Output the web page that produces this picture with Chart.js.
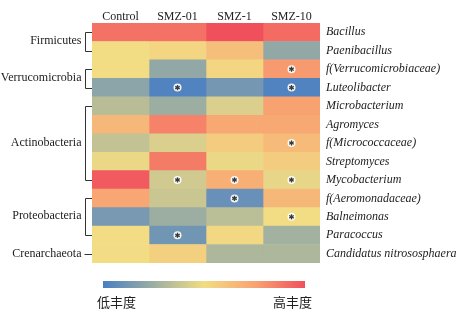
<!DOCTYPE html>
<html>
<head>
<meta charset="utf-8">
<script src="https://cdn.jsdelivr.net/npm/chart.js@4"></script>
<style>
  html, body { margin: 0; padding: 0; background: #fff; }
  #wrap { width: 463px; height: 313px; }
</style>
</head>
<body>
<div id="wrap"><canvas id="chart"></canvas></div>
<script>
// columns (treatments) and rows (genera)
const columns = ['Control', 'SMZ-01', 'SMZ-1', 'SMZ-10'];
const genera = ['Bacillus', 'Paenibacillus', 'f(Verrucomicrobiaceae)', 'Luteolibacter',
                'Microbacterium', 'Agromyces', 'f(Micrococcaceae)', 'Streptomyces',
                'Mycobacterium', 'f(Aeromonadaceae)', 'Balneimonas', 'Paracoccus',
                'Candidatus nitrososphaera'];

// relative abundance, scaled 0 (low) .. 1 (high)
const control = [0.90, 0.50, 0.50, 0.20, 0.33, 0.66, 0.36, 0.48, 0.97, 0.74, 0.14, 0.50, 0.50];
const smz01   = [0.90, 0.53, 0.22, 0.02, 0.25, 0.85, 0.43, 0.87, 0.40, 0.38, 0.25, 0.12, 0.56];
const smz1    = [1.00, 0.63, 0.53, 0.13, 0.43, 0.73, 0.57, 0.48, 0.70, 0.09, 0.34, 0.52, 0.30];
const smz10   = [0.92, 0.22, 0.78, 0.02, 0.76, 0.73, 0.65, 0.57, 0.47, 0.66, 0.50, 0.27, 0.30];

// significant cells [row, column]
const stars = [[2, 3], [3, 1], [3, 3], [6, 3], [8, 1], [8, 2], [8, 3], [9, 2], [10, 3], [11, 1]];

// phylum groups: [name, first row, last row]
const phyla = [['Firmicutes', 0, 1], ['Verrucomicrobia', 2, 3], ['Actinobacteria', 4, 8],
               ['Proteobacteria', 9, 11], ['Crenarchaeota', 12, 12]];

const stops = [[0, [74, 127, 196]], [0.25, [156, 174, 162]], [0.5, [242, 220, 132]],
               [0.75, [248, 164, 114]], [1, [240, 80, 92]]];

function colorFor(v) {
    for (let i = 1; i < stops.length; i++) {
        if (v <= stops[i][0]) {
            const a = stops[i - 1], b = stops[i];
            const t = (v - a[0]) / (b[0] - a[0]);
            const c = a[1].map((x, k) => Math.round(x + (b[1][k] - x) * t));
            return 'rgb(' + c.join(',') + ')';
        }
    }
    return 'rgb(' + stops[stops.length - 1][1].join(',') + ')';
}

const allValues = [control, smz01, smz1, smz10];

const overlay = {
    id: 'overlay',
    afterDatasetsDraw(chart) {
        const ctx = chart.ctx;
        const y = chart.scales.y;
        const area = chart.chartArea;

        ctx.save();
        // phylum brackets and names
        ctx.strokeStyle = '#333';
        ctx.lineWidth = 1;
        ctx.fillStyle = '#222';
        ctx.font = '12px "Liberation Serif", serif';
        ctx.textAlign = 'right';
        ctx.textBaseline = 'middle';
        const bx = area.left - 6.5;
        phyla.forEach(p => {
            const y0 = Math.round(y.getPixelForValue(p[1])) + 0.5;
            const y1 = Math.round(y.getPixelForValue(p[2])) + 0.5;
            ctx.beginPath();
            if (p[1] === p[2]) {
                ctx.moveTo(bx - 1, y0);
                ctx.lineTo(area.left, y0);
            } else {
                ctx.moveTo(area.left, y0);
                ctx.lineTo(bx, y0);
                ctx.lineTo(bx, y1);
                ctx.lineTo(area.left, y1);
            }
            ctx.stroke();
            ctx.fillText(p[0], bx - 4, (y0 + y1) / 2 - 1);
        });

        // asterisks
        stars.forEach(s => {
            const bar = chart.getDatasetMeta(s[1]).data[s[0]];
            const cx = bar.x - (bar.x - bar.base) / 2;
            const cy = bar.y;
            ctx.beginPath();
            ctx.arc(cx, cy, 4, 0, Math.PI * 2);
            ctx.fillStyle = 'rgba(255,255,255,0.9)';
            ctx.fill();
            ctx.strokeStyle = '#3a3a3a';
            ctx.lineWidth = 1.3;
            for (let k = 0; k < 3; k++) {
                const a = Math.PI / 2 + k * Math.PI / 3;
                ctx.beginPath();
                ctx.moveTo(cx - Math.cos(a) * 2.6, cy - Math.sin(a) * 2.6);
                ctx.lineTo(cx + Math.cos(a) * 2.6, cy + Math.sin(a) * 2.6);
                ctx.stroke();
            }
        });

        // colour bar
        const gx0 = 103, gx1 = 305, gy = 281, gh = 7;
        const grad = ctx.createLinearGradient(gx0, 0, gx1, 0);
        stops.forEach(s => grad.addColorStop(s[0], 'rgb(' + s[1].join(',') + ')'));
        ctx.fillStyle = grad;
        ctx.fillRect(gx0, gy, gx1 - gx0, gh);
        ctx.fillStyle = '#222';
        ctx.font = '13px "Noto Sans CJK SC", sans-serif';
        ctx.textAlign = 'left';
        ctx.fillText('低丰度', 97, 302);
        ctx.textAlign = 'right';
        ctx.fillText('高丰度', 312, 302);
        ctx.restore();
    }
};

document.addEventListener('DOMContentLoaded', function() {
    const ctx = document.getElementById('chart').getContext('2d');
    new Chart(ctx, {
        type: 'bar',
        data: {
            labels: genera,
            datasets: columns.map((name, i) => ({
                label: name,
                data: allValues[i].map(() => 1),
                backgroundColor: allValues[i].map(colorFor),
                borderWidth: 0,
                barPercentage: 1,
                categoryPercentage: 1
            }))
        },
        options: {
            indexAxis: 'y',
            responsive: true,
            maintainAspectRatio: false,
            animation: false,
            layout: { padding: { left: 92, bottom: 50, top: 0, right: 0 } },
            plugins: { legend: { display: false }, tooltip: { enabled: false } },
            scales: {
                x: {
                    type: 'linear',
                    position: 'top',
                    stacked: true,
                    min: 0,
                    max: 4,
                    grid: { display: false, drawTicks: false },
                    border: { display: false },
                    afterBuildTicks: s => { s.ticks = columns.map((c, i) => ({ value: i + 0.5 })); },
                    afterFit: s => { s.height = 23; },
                    ticks: {
                        padding: -1,
                        maxRotation: 0,
                        color: '#222',
                        font: { family: '"Liberation Serif", serif', size: 12 },
                        callback: v => columns[Math.floor(v)]
                    }
                },
                y: {
                    position: 'right',
                    stacked: true,
                    grid: { display: false, drawTicks: false },
                    border: { display: false },
                    afterFit: s => { s.width = 143; },
                    ticks: {
                        autoSkip: false,
                        padding: 6,
                        color: '#222',
                        font: { family: '"Liberation Serif", serif', size: 12, style: 'italic' }
                    }
                }
            }
        },
        plugins: [overlay]
    });
});
</script>
</body>
</html>
